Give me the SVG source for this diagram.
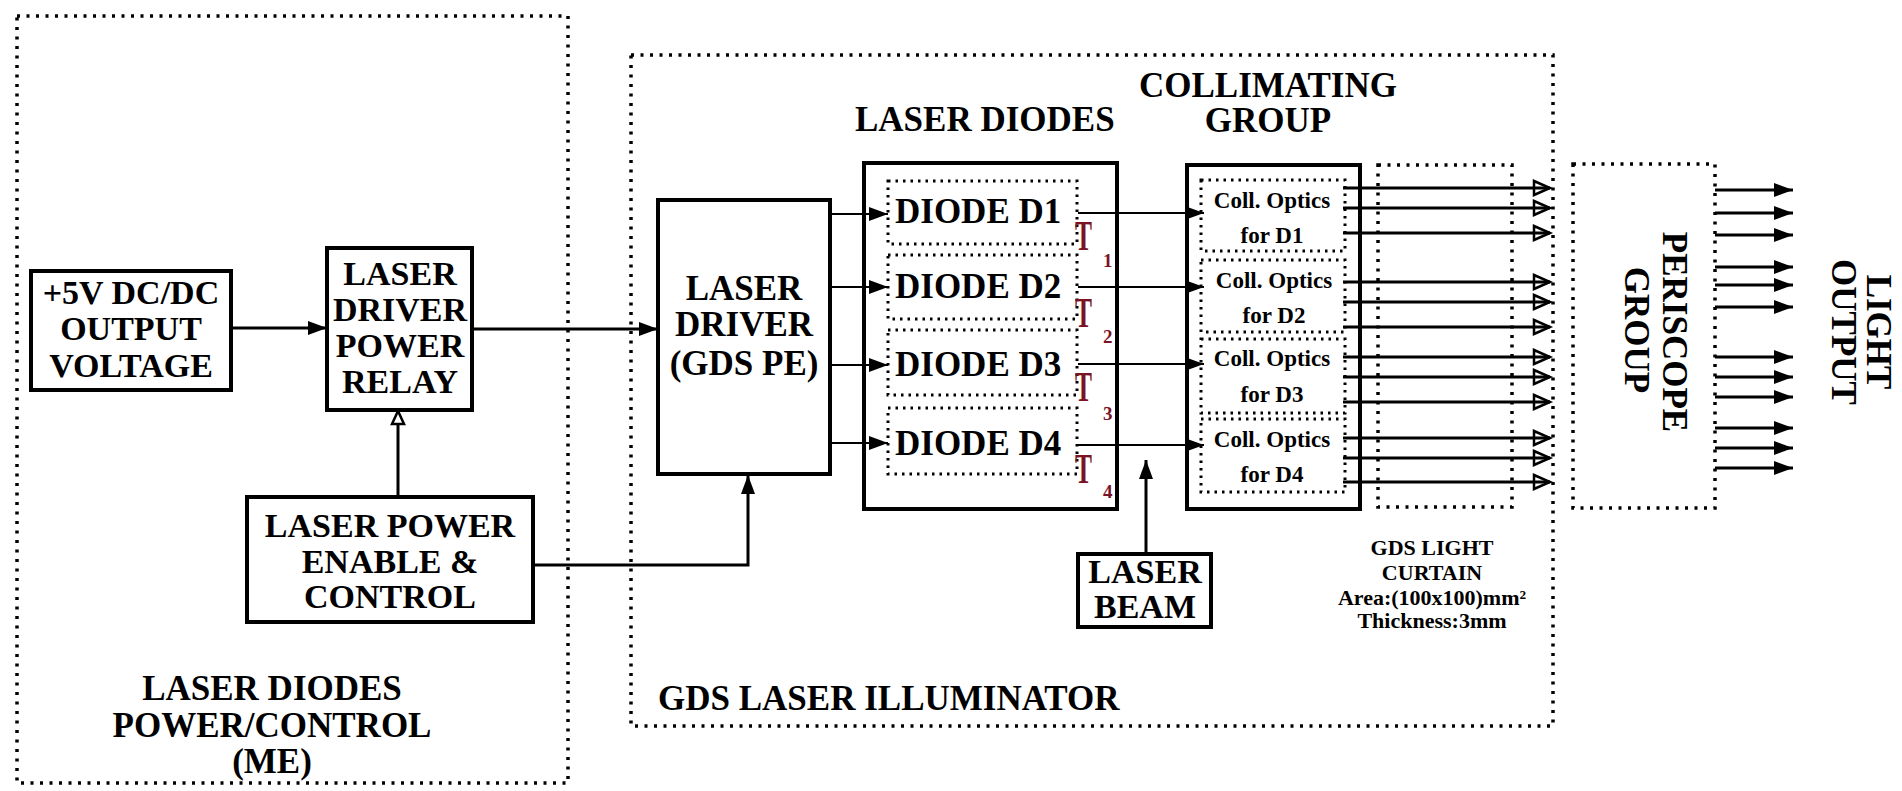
<svg xmlns="http://www.w3.org/2000/svg" width="1902" height="791" viewBox="0 0 1902 791">
<style>
.bg{fill:#fff}
.box{fill:#fff;stroke:#000;stroke-width:4}
.dout{fill:none;stroke:#000;stroke-width:3.5;stroke-dasharray:3 6.5}
.din{fill:none;stroke:#000;stroke-width:3;stroke-dasharray:2.5 5}
.t{font-family:"Liberation Serif","Times New Roman",serif;font-weight:bold;fill:#000;text-anchor:middle}
.l35{font-size:35px}
.l34{font-size:34px}
.l23{font-size:23px}
.l22{font-size:22px}
.red{font-family:"Liberation Serif","Times New Roman",serif;font-weight:bold;fill:#7a1424}
.c{fill:none;stroke:#000;stroke-width:3}
.c2{fill:none;stroke:#000;stroke-width:2.2}
</style>
<defs>
<marker id="af" markerUnits="userSpaceOnUse" markerWidth="22" markerHeight="18" refX="19" refY="9" orient="auto"><path d="M0,2 L19,9 L0,16 z" fill="#000"/></marker>
<marker id="afs" markerUnits="userSpaceOnUse" markerWidth="22" markerHeight="16" refX="18" refY="8" orient="auto"><path d="M0,1.5 L18,8 L0,14.5 z" fill="#000"/></marker>
<marker id="ahw" markerUnits="userSpaceOnUse" markerWidth="20" markerHeight="18" refX="15" refY="9" orient="auto"><path d="M2,3 L15,9 L2,15 z" fill="#fff" stroke="#000" stroke-width="2.5"/></marker>
<marker id="aho" markerUnits="userSpaceOnUse" markerWidth="22" markerHeight="20" refX="18" refY="10" orient="auto"><path d="M2,3 L18,10 L2,17 z" fill="none" stroke="#000" stroke-width="2.5"/></marker>
</defs>
<rect class="bg" x="0" y="0" width="1902" height="791"/>

<g id="group-power-control">
<rect class="dout" x="17" y="16" width="551" height="767"/>
<text class="t l35" x="272" y="700">LASER DIODES</text>
<text class="t l35" x="272" y="737">POWER/CONTROL</text>
<text class="t l35" x="272" y="773">(ME)</text>
</g>

<g id="group-illuminator">
<rect class="dout" x="631" y="55" width="922" height="671"/>
<text class="t l35" x="658" y="710" style="text-anchor:start">GDS LASER ILLUMINATOR</text>
</g>

<g id="node-dcdc">
<rect class="box" x="31" y="271" width="200" height="119"/>
<text class="t l34" x="131" y="304">+5V DC/DC</text>
<text class="t l34" x="131" y="340">OUTPUT</text>
<text class="t l34" x="131" y="377">VOLTAGE</text>
</g>

<g id="node-relay">
<rect class="box" x="327" y="248" width="145" height="162"/>
<text class="t l34" x="400" y="285">LASER</text>
<text class="t l34" x="400" y="321">DRIVER</text>
<text class="t l34" x="400" y="357">POWER</text>
<text class="t l34" x="400" y="393">RELAY</text>
</g>

<g id="node-enable">
<rect class="box" x="247" y="497" width="286" height="125"/>
<text class="t l34" x="390" y="537">LASER POWER</text>
<text class="t l34" x="390" y="573">ENABLE &amp;</text>
<text class="t l34" x="390" y="608">CONTROL</text>
</g>

<g id="node-driver">
<rect class="box" x="658" y="200" width="172" height="274"/>
<text class="t l35" x="744" y="300">LASER</text>
<text class="t l35" x="744" y="336">DRIVER</text>
<text class="t l35" x="744" y="375">(GDS PE)</text>
</g>

<g id="node-diodes">
<text class="t l35" x="855" y="131" style="text-anchor:start">LASER DIODES</text>
<rect class="box" x="864" y="163" width="253" height="346"/>
<rect class="din" x="888" y="181" width="189" height="63"/>
<rect class="din" x="888" y="255" width="189" height="64"/>
<rect class="din" x="888" y="330" width="189" height="65"/>
<rect class="din" x="888" y="408" width="189" height="66"/>
<text class="t l35" x="895" y="223" style="text-anchor:start">DIODE D1</text>
<text class="t l35" x="895" y="298" style="text-anchor:start">DIODE D2</text>
<text class="t l35" x="895" y="376" style="text-anchor:start">DIODE D3</text>
<text class="t l35" x="895" y="455" style="text-anchor:start">DIODE D4</text>
<text class="red" x="1075" y="250" font-size="42" textLength="17" lengthAdjust="spacingAndGlyphs">T</text>
<text class="red" x="1103" y="267" font-size="19">1</text>
<text class="red" x="1075" y="327" font-size="42" textLength="17" lengthAdjust="spacingAndGlyphs">T</text>
<text class="red" x="1103" y="343" font-size="19">2</text>
<text class="red" x="1075" y="401" font-size="42" textLength="17" lengthAdjust="spacingAndGlyphs">T</text>
<text class="red" x="1103" y="420" font-size="19">3</text>
<text class="red" x="1075" y="483" font-size="42" textLength="17" lengthAdjust="spacingAndGlyphs">T</text>
<text class="red" x="1103" y="498" font-size="19">4</text>
</g>

<g id="node-beam">
<rect class="box" x="1078" y="554" width="133" height="73"/>
<text class="t l34" x="1145" y="583">LASER</text>
<text class="t l34" x="1145" y="618">BEAM</text>
</g>

<g id="node-collimating">
<text class="t l35" x="1268" y="97">COLLIMATING</text>
<text class="t l35" x="1268" y="132">GROUP</text>
<rect class="box" x="1187" y="165" width="173" height="344"/>
<rect class="din" x="1201" y="180" width="144" height="71"/>
<rect class="din" x="1201" y="260" width="144" height="72"/>
<rect class="din" x="1201" y="339" width="144" height="74"/>
<rect class="din" x="1201" y="419" width="144" height="73"/>
<text class="t l23" x="1272" y="208">Coll. Optics</text>
<text class="t l23" x="1272" y="243">for D1</text>
<text class="t l23" x="1274" y="288">Coll. Optics</text>
<text class="t l23" x="1274" y="323">for D2</text>
<text class="t l23" x="1272" y="366">Coll. Optics</text>
<text class="t l23" x="1272" y="402">for D3</text>
<text class="t l23" x="1272" y="447">Coll. Optics</text>
<text class="t l23" x="1272" y="482">for D4</text>
</g>

<g id="node-curtain">
<rect class="dout" x="1378" y="165" width="134" height="342"/>
<text class="t l22" x="1432" y="555">GDS LIGHT</text>
<text class="t l22" x="1432" y="580">CURTAIN</text>
<text class="t l22" x="1432" y="605">Area:(100x100)mm²</text>
<text class="t l22" x="1432" y="628">Thickness:3mm</text>
</g>

<g id="node-periscope">
<rect class="dout" x="1573" y="164" width="142" height="344"/>
<text class="t l35" transform="translate(1663,332) rotate(90)">PERISCOPE</text>
<text class="t l35" transform="translate(1625,330) rotate(90)">GROUP</text>
</g>

<g id="node-output">
<text class="t l35" transform="translate(1867,332) rotate(90)">LIGHT</text>
<text class="t l35" transform="translate(1832,332) rotate(90)">OUTPUT</text>
</g>

<g id="connectors">
<line class="c" x1="231" y1="328" x2="327" y2="328" marker-end="url(#af)"/>
<line class="c" x1="472" y1="329" x2="658" y2="329" marker-end="url(#af)"/>
<line class="c" x1="398" y1="497" x2="398" y2="411" marker-end="url(#ahw)"/>
<polyline class="c" points="533,565 748,565 748,475" marker-end="url(#af)"/>
<line class="c2" x1="830" y1="214" x2="888" y2="214" marker-end="url(#af)"/>
<line class="c2" x1="830" y1="287" x2="888" y2="287" marker-end="url(#af)"/>
<line class="c2" x1="830" y1="365" x2="888" y2="365" marker-end="url(#af)"/>
<line class="c2" x1="830" y1="443" x2="888" y2="443" marker-end="url(#af)"/>
<line class="c2" x1="1078" y1="213" x2="1204" y2="213" marker-end="url(#afs)"/>
<line class="c2" x1="1078" y1="287" x2="1204" y2="287" marker-end="url(#afs)"/>
<line class="c2" x1="1078" y1="364" x2="1204" y2="364" marker-end="url(#afs)"/>
<line class="c2" x1="1078" y1="445" x2="1204" y2="445" marker-end="url(#afs)"/>
<line class="c" x1="1146" y1="554" x2="1146" y2="460" marker-end="url(#af)"/>
<line class="c" x1="1343" y1="188" x2="1550" y2="188" marker-end="url(#aho)"/>
<line class="c" x1="1343" y1="208" x2="1550" y2="208" marker-end="url(#aho)"/>
<line class="c" x1="1343" y1="233" x2="1550" y2="233" marker-end="url(#aho)"/>
<line class="c" x1="1343" y1="282" x2="1550" y2="282" marker-end="url(#aho)"/>
<line class="c" x1="1343" y1="302" x2="1550" y2="302" marker-end="url(#aho)"/>
<line class="c" x1="1343" y1="327" x2="1550" y2="327" marker-end="url(#aho)"/>
<line class="c" x1="1343" y1="357" x2="1550" y2="357" marker-end="url(#aho)"/>
<line class="c" x1="1343" y1="377" x2="1550" y2="377" marker-end="url(#aho)"/>
<line class="c" x1="1343" y1="402" x2="1550" y2="402" marker-end="url(#aho)"/>
<line class="c" x1="1343" y1="438" x2="1550" y2="438" marker-end="url(#aho)"/>
<line class="c" x1="1343" y1="458" x2="1550" y2="458" marker-end="url(#aho)"/>
<line class="c" x1="1343" y1="482" x2="1550" y2="482" marker-end="url(#aho)"/>
<line class="c" x1="1715" y1="190" x2="1793" y2="190" marker-end="url(#af)"/>
<line class="c" x1="1715" y1="213" x2="1793" y2="213" marker-end="url(#af)"/>
<line class="c" x1="1715" y1="235" x2="1793" y2="235" marker-end="url(#af)"/>
<line class="c" x1="1715" y1="267" x2="1793" y2="267" marker-end="url(#af)"/>
<line class="c" x1="1715" y1="285" x2="1793" y2="285" marker-end="url(#af)"/>
<line class="c" x1="1715" y1="307" x2="1793" y2="307" marker-end="url(#af)"/>
<line class="c" x1="1715" y1="357" x2="1793" y2="357" marker-end="url(#af)"/>
<line class="c" x1="1715" y1="377" x2="1793" y2="377" marker-end="url(#af)"/>
<line class="c" x1="1715" y1="397" x2="1793" y2="397" marker-end="url(#af)"/>
<line class="c" x1="1715" y1="428" x2="1793" y2="428" marker-end="url(#af)"/>
<line class="c" x1="1715" y1="448" x2="1793" y2="448" marker-end="url(#af)"/>
<line class="c" x1="1715" y1="468" x2="1793" y2="468" marker-end="url(#af)"/>
</g>
</svg>
